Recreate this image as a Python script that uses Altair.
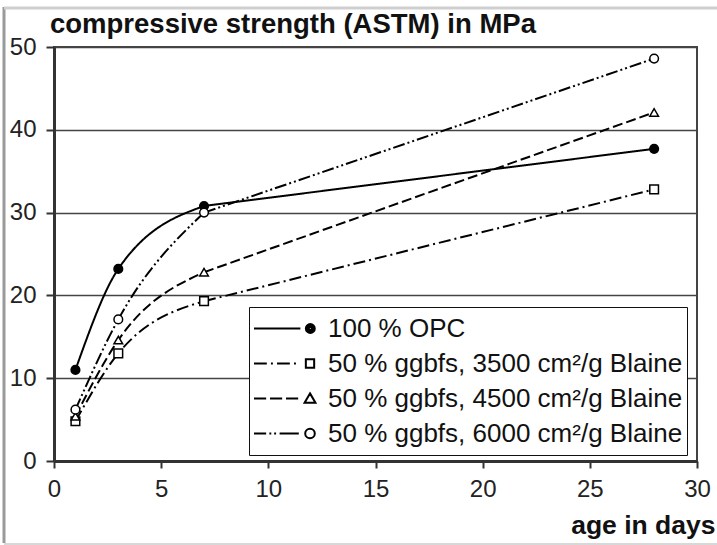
import altair as alt
import pandas as pd

days = [1, 3, 7, 28]
series = [
    "100 % OPC",
    "50 % ggbfs, 3500 cm²/g Blaine",
    "50 % ggbfs, 4500 cm²/g Blaine",
    "50 % ggbfs, 6000 cm²/g Blaine",
]
opc = [11.0, 23.2, 30.8, 37.7]
g3500 = [4.8, 13.0, 19.3, 32.8]
g4500 = [5.4, 14.6, 22.8, 42.1]
g6000 = [6.2, 17.1, 30.0, 48.6]
x_ticks = [0, 5, 10, 15, 20, 25, 30]
y_ticks = [0, 10, 20, 30, 40, 50]
title_text = "compressive strength (ASTM) in MPa"

rows = []
for name, vals in zip(series, [opc, g3500, g4500, g6000]):
    for d, v in zip(days, vals):
        rows.append({"day": d, "strength": v, "series": name})
df = pd.DataFrame(rows)

FONT = "Liberation Sans"

dashes = [[1, 0], [12, 4, 2, 4], [10, 4], [12, 3, 2, 3, 2, 3]]
point_shapes = ["circle", "square", "triangle-up", "circle"]
fills = ["black", "white", "white", "white"]


def circ(c, r):
    return f"M{c + r},0A{r},{r},0,1,1,{c - r},0A{r},{r},0,1,1,{c + r},0Z"


legend_paths = [
    "M-1,0L0.45,0" + circ(0.76, 0.14) + circ(0.76, 0.094) + circ(0.76, 0.047) + circ(0.76, 0.012),
    "M-1,0L-0.6,0M-0.47,0L-0.41,0M-0.28,0L0.12,0M0.25,0L0.31,0"
    "M0.62,-0.13L0.88,-0.13L0.88,0.13L0.62,0.13Z",
    "M-1,0L-0.62,0M-0.5,0L-0.12,0M0,0L0.38,0M0.75,-0.16L0.92,0.13L0.58,0.13Z",
    "M-1,0L-0.62,0M-0.52,0L-0.46,0M-0.37,0L-0.31,0M-0.2,0L0.4,0" + circ(0.75, 0.15),
]

x_enc = alt.X(
    "day:Q",
    scale=alt.Scale(domain=[0, 30], nice=False, zero=False),
    axis=alt.Axis(
        values=x_ticks,
        title="age in days",
        titleFont=FONT,
        titleFontSize=26.5,
        titleFontWeight="bold",
        titleColor="#111",
        titleAlign="right",
        titleAnchor="end",
        titleBaseline="alphabetic",
        titleX=661,
        titleY=72,
        grid=False,
        labelFont=FONT,
        labelFontSize=24,
        labelColor="#222",
        labelPadding=9,
        tickSize=7,
        tickWidth=2,
        tickColor="#333",
        domainColor="#333",
        domainWidth=3,
        labelFlush=False,
    ),
)
y_enc = alt.Y(
    "strength:Q",
    scale=alt.Scale(domain=[0, 50], nice=False),
    axis=alt.Axis(
        values=y_ticks,
        title=None,
        grid=True,
        gridColor="#444",
        gridWidth=1.6,
        labelFont=FONT,
        labelFontSize=24,
        labelColor="#222",
        labelPadding=10,
        tickSize=8,
        tickWidth=2,
        tickColor="#333",
        domainColor="#333",
        domainWidth=3,
    ),
)

base = alt.Chart(df)

dash_enc = alt.StrokeDash(
    "series:N", scale=alt.Scale(domain=series, range=dashes), legend=None
)

early_lines = (
    base.transform_filter("datum.day <= 7")
    .mark_line(interpolate="monotone", color="black", strokeWidth=2)
    .encode(x=x_enc, y=y_enc, strokeDash=dash_enc)
)
late_lines = (
    base.transform_filter("datum.day >= 7")
    .mark_line(interpolate="linear", color="black", strokeWidth=2)
    .encode(x="day:Q", y="strength:Q", strokeDash=dash_enc)
)

points = base.mark_point(
    filled=True, size=75, stroke="black", strokeWidth=1.5, opacity=1
).encode(
    x="day:Q",
    y="strength:Q",
    shape=alt.Shape(
        "series:N", scale=alt.Scale(domain=series, range=point_shapes), legend=None
    ),
    fill=alt.Fill("series:N", scale=alt.Scale(domain=series, range=fills), legend=None),
)

legend_layer = (
    base.transform_filter("datum.day < 0")
    .mark_point(filled=False, color="black", strokeWidth=2, opacity=1)
    .encode(
        x="day:Q",
        y="strength:Q",
        shape=alt.Shape(
            "series:N",
            scale=alt.Scale(domain=series, range=legend_paths),
            legend=alt.Legend(
                title=None,
                orient="none",
                legendX=195,
                legendY=260,
                padding=4,
                strokeColor="#111",
                fillColor="white",
                symbolSize=4096,
                clipHeight=35,
                rowPadding=0,
                labelFont=FONT,
                labelFontSize=26,
                labelColor="#111",
                labelOffset=9,
                labelLimit=0,
                symbolStrokeColor="black",
                symbolFillColor="white",
                symbolStrokeWidth=2,
                symbolOpacity=1,
            ),
        ),
    )
)

frame_data = alt.Data(values=[{"a": 1}])
left_bar = alt.Chart(frame_data).mark_rule(color="#9a9a9a", strokeWidth=3).encode(
    x=alt.value(-50), y=alt.value(-40), y2=alt.value(496)
)
top_bar = alt.Chart(frame_data).mark_rule(color="#cfcfcf", strokeWidth=3).encode(
    x=alt.value(-50), x2=alt.value(663), y=alt.value(-39)
)
bottom_bar = alt.Chart(frame_data).mark_rule(color="#d8d8d8", strokeWidth=2).encode(
    x=alt.value(-50), x2=alt.value(663), y=alt.value(497)
)
title_mark = alt.Chart(frame_data).mark_text(
    text=title_text,
    align="left",
    baseline="alphabetic",
    font=FONT,
    fontSize=27.5,
    fontWeight="bold",
    color="#111",
).encode(x=alt.value(-4), y=alt.value(-14))

chart = (
    alt.layer(
        left_bar, top_bar, bottom_bar, title_mark, early_lines, late_lines, points, legend_layer
    )
    .resolve_scale(shape="independent")
    .properties(
        width=643,
        height=414,
        autosize=alt.AutoSizeParams(type="none"),
        padding={"left": 54, "top": 47, "right": 20, "bottom": 84},
        background="white",
    )
    .configure_view(stroke="#444", strokeWidth=2)
)

chart.save("out.html", embed_options={"renderer": "svg", "actions": False})
